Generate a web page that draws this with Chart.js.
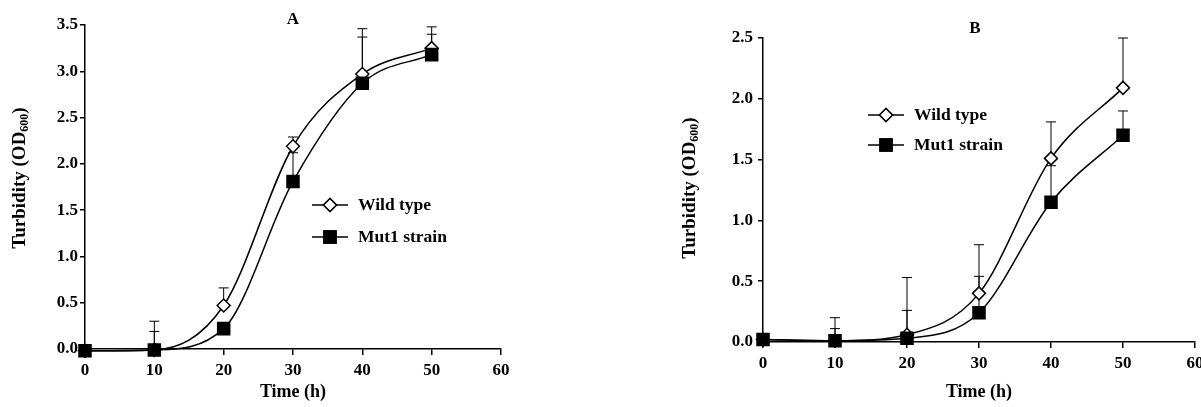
<!DOCTYPE html>
<html>
<head>
<meta charset="utf-8">
<script src="https://cdn.jsdelivr.net/npm/chart.js@4"></script>
<style>
  html, body { margin: 0; padding: 0; background: #fff; overflow: hidden; }
  body { width: 1201px; height: 407px; position: relative; }
  .box { position: absolute; top: 0; height: 407px; }
  #boxA { left: 0; width: 600px; }
  #boxB { left: 650px; width: 560px; }
</style>
</head>
<body>
<div class="box" id="boxA"><canvas id="chartA"></canvas></div>
<div class="box" id="boxB"><canvas id="chartB"></canvas></div>
<script>
// sampling times (h)
const times = [0, 10, 20, 30, 40, 50];
const seriesNames = ['Wild type', 'Mut1 strain'];

// panel A - turbidity and SD
const wildA = [-0.02, -0.01, 0.47, 2.19, 2.97, 3.25];
const wildA_sd = [0, 0.31, 0.19, 0.10, 0.49, 0.23];
const mutA = [-0.02, -0.01, 0.22, 1.81, 2.87, 3.18];
const mutA_sd = [0, 0.20, 0, 0.31, 0.50, 0.22];

// panel B
const wildB = [0.02, 0.01, 0.06, 0.40, 1.51, 2.09];
const wildB_sd = [0, 0.19, 0.47, 0.40, 0.30, 0.41];
const mutB = [0.02, 0.01, 0.03, 0.24, 1.15, 1.70];
const mutB_sd = [0, 0.10, 0.23, 0.30, 0.30, 0.20];

const FONT = '"Liberation Serif", "Times New Roman", serif';

// error bars (upper only) drawn under the markers
const errorBars = {
  id: 'errorBars',
  beforeDatasetsDraw(chart) {
    const { ctx, scales: { x, y } } = chart;
    ctx.save();
    ctx.strokeStyle = '#000';
    ctx.lineWidth = 1;
    chart.data.datasets.forEach(ds => {
      ds.data.forEach((p, i) => {
        const s = ds.sd[i];
        if (!s) return;
        const px = x.getPixelForValue(p.x);
        const py = y.getPixelForValue(p.y);
        const top = y.getPixelForValue(p.y + s);
        ctx.beginPath();
        ctx.moveTo(px, py);
        ctx.lineTo(px, top);
        ctx.moveTo(px - 5, top);
        ctx.lineTo(px + 5, top);
        ctx.stroke();
      });
    });
    ctx.restore();
  }
};

// panel letter, y title with subscript, legend inside the plot
const decorations = {
  id: 'decorations',
  afterDraw(chart, args, opts) {
    const ctx = chart.ctx;
    ctx.save();
    ctx.fillStyle = '#000';

    ctx.font = 'bold 17px ' + FONT;
    ctx.textAlign = 'center';
    ctx.textBaseline = 'middle';
    ctx.fillText(opts.letter, opts.letterX, opts.letterY);

    // rotated y-axis title
    ctx.translate(opts.yTitleX, opts.yTitleY);
    ctx.rotate(-Math.PI / 2);
    const big = 'bold 19px ' + FONT, small = 'bold 12px ' + FONT;
    ctx.font = big;
    const w1 = ctx.measureText('Turbidity (OD').width;
    const w3 = ctx.measureText(')').width;
    ctx.font = small;
    const w2 = ctx.measureText('600').width;
    let sx = -(w1 + w2 + w3) / 2;
    ctx.textAlign = 'left';
    ctx.font = big;
    ctx.fillText('Turbidity (OD', sx, 0);
    ctx.font = small;
    ctx.fillText('600', sx + w1, 5);
    ctx.font = big;
    ctx.fillText(')', sx + w1 + w2, 0);
    ctx.setTransform(1, 0, 0, 1, 0, 0);

    // legend
    chart.data.datasets.forEach((ds, i) => {
      const ly = opts.legendY + i * opts.legendGap;
      const x0 = opts.legendX;
      ctx.strokeStyle = '#000';
      ctx.lineWidth = 1.5;
      ctx.beginPath();
      ctx.moveTo(x0, ly);
      ctx.lineTo(x0 + 36, ly);
      ctx.stroke();
      Chart.helpers.drawPoint(ctx, {
        pointStyle: ds.pointStyle,
        radius: ds.pointRadius,
        borderWidth: ds.borderWidth
      }, x0 + 18, ly);
      ctx.fillStyle = ds.pointBackgroundColor;
      ctx.fill();
      ctx.stroke();
      ctx.fillStyle = '#000';
      ctx.font = 'bold 17.5px ' + FONT;
      ctx.textAlign = 'left';
      ctx.textBaseline = 'middle';
      ctx.fillText(ds.label, x0 + 46, ly);
    });
    ctx.restore();
  }
};

function makeSet(label, vals, sd, isWild) {
  return {
    label: label,
    data: times.map((t, i) => ({ x: t, y: vals[i] })),
    sd: sd,
    borderColor: '#000',
    borderWidth: 1.5,
    pointStyle: isWild ? 'rectRot' : 'rect',
    pointRadius: isWild ? 6.5 : 8.5,
    pointHoverRadius: isWild ? 6.5 : 8.5,
    pointBackgroundColor: isWild ? '#fff' : '#000',
    pointBorderColor: '#000',
    pointBorderWidth: 1.5,
    cubicInterpolationMode: 'monotone',
    fill: false,
    clip: false,
    order: isWild ? 1 : 0
  };
}

function makeChart(id, wild, wildSd, mut, mutSd, cfg) {
  new Chart(document.getElementById(id), {
    type: 'line',
    data: {
      datasets: [
        makeSet(seriesNames[0], wild, wildSd, true),
        makeSet(seriesNames[1], mut, mutSd, false)
      ]
    },
    options: {
      responsive: true,
      maintainAspectRatio: false,
      animation: false,
      events: [],
      layout: { padding: { left: 0, top: cfg.top, right: cfg.right, bottom: 0 } },
      plugins: {
        legend: { display: false },
        tooltip: { enabled: false },
        decorations: cfg.deco
      },
      scales: {
        x: {
          type: 'linear',
          min: 0, max: 60,
          afterFit: s => { s.height = cfg.xHeight; },
          ticks: { stepSize: 10, color: '#000', padding: 5, font: { family: FONT, size: 17, weight: 'bold' } },
          grid: { drawOnChartArea: false, drawTicks: true, tickLength: 6, color: '#000', lineWidth: 1.5 },
          border: { color: '#000', width: 1.5 },
          title: { display: true, text: 'Time (h)', color: '#000', font: { family: FONT, size: 18, weight: 'bold' } }
        },
        y: {
          min: 0, max: cfg.yMax,
          afterFit: s => { s.width = cfg.yWidth; },
          ticks: {
            stepSize: 0.5, color: '#000', padding: cfg.yPad,
            font: { family: FONT, size: 17, weight: 'bold' },
            callback: v => v.toFixed(1)
          },
          grid: { drawOnChartArea: false, drawTicks: true, tickLength: 5, color: '#000', lineWidth: 1.5 },
          border: { color: '#000', width: 1.5 }
        }
      }
    },
    plugins: [errorBars, decorations]
  });
}

makeChart('chartA', wildA, wildA_sd, mutA, mutA_sd, {
  top: 25, right: 99, xHeight: 58, yWidth: 85, yMax: 3.5, yPad: 2,
  deco: { letter: 'A', letterX: 293, letterY: 20, yTitleX: 20, yTitleY: 178,
          legendX: 312, legendY: 205, legendGap: 32 }
});

makeChart('chartB', wildB, wildB_sd, mutB, mutB_sd, {
  top: 38, right: 15, xHeight: 65, yWidth: 113, yMax: 2.5, yPad: 5,
  deco: { letter: 'B', letterX: 325, letterY: 29, yTitleX: 40, yTitleY: 188,
          legendX: 218, legendY: 115, legendGap: 30 }
});
</script>
</body>
</html>
